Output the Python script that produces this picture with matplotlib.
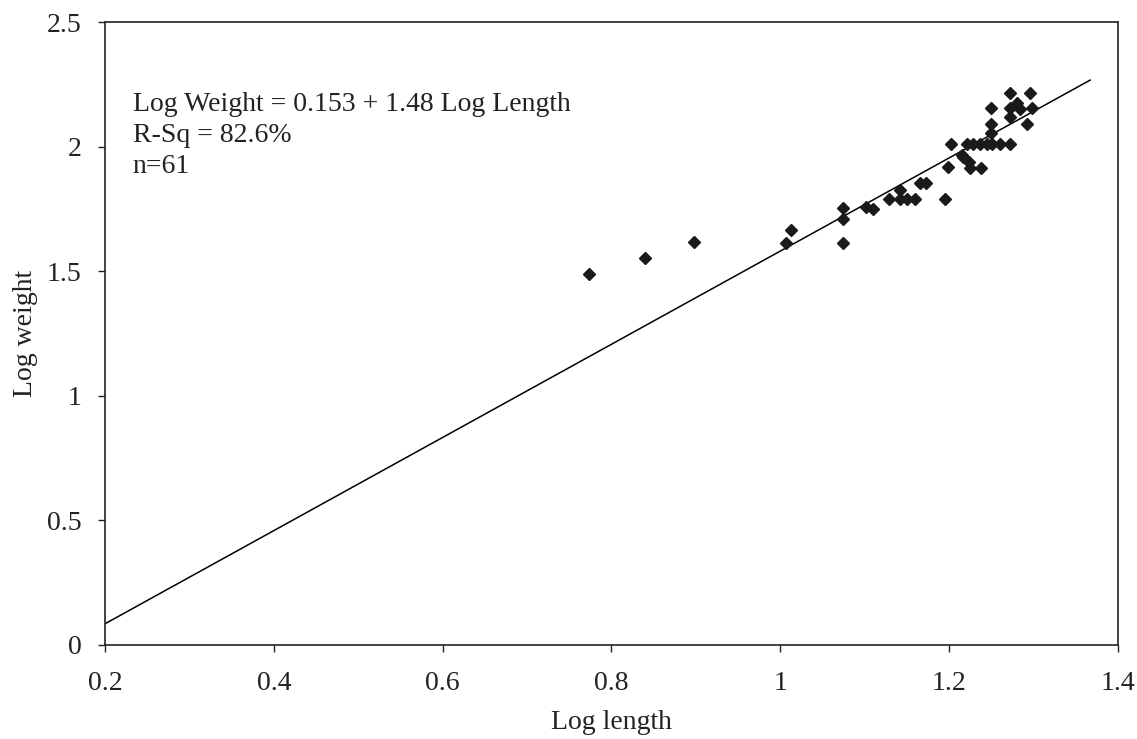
import matplotlib
matplotlib.use("Agg")
import matplotlib.pyplot as plt

plt.rcParams['font.family'] = ['Liberation Serif', 'DejaVu Serif']

# Data
log_length = [0.773, 0.840, 0.898, 1.007, 1.013, 1.074, 1.074, 1.074, 1.101, 1.110,
              1.129, 1.142, 1.142, 1.150, 1.160, 1.165, 1.173, 1.195, 1.199, 1.202,
              1.215, 1.221, 1.228, 1.237, 1.245, 1.251, 1.260, 1.272, 1.216, 1.224,
              1.225, 1.238, 1.249, 1.249, 1.249, 1.272, 1.296, 1.280, 1.272, 1.284,
              1.272, 1.298, 1.292]
log_weight = [1.489, 1.553, 1.617, 1.613, 1.665, 1.754, 1.709, 1.613, 1.757, 1.750,
              1.790, 1.826, 1.790, 1.790, 1.790, 1.854, 1.854, 1.790, 1.918, 2.010,
              1.966, 2.010, 2.010, 2.010, 2.010, 2.010, 2.010, 2.010, 1.958, 1.938,
              1.914, 1.914, 2.055, 2.091, 2.155, 2.215, 2.215, 2.175, 2.155, 2.151,
              2.119, 2.155, 2.091]

fit_x = [0.2, 1.367]
fit_y = [0.085, 2.267]

x_ticks = [0.2, 0.4, 0.6, 0.8, 1.0, 1.2, 1.4]
x_tick_labels = ['0.2', '0.4', '0.6', '0.8', '1', '1.2', '1.4']
y_ticks = [0, 0.5, 1.0, 1.5, 2.0, 2.5]
y_tick_labels = ['0', '0.5', '1', '1.5', '2', '2.5']

annotation_lines = ['Log Weight = 0.153 + 1.48 Log Length', 'R-Sq = 82.6%', 'n=61']

fig = plt.figure(figsize=(11.37, 7.39), dpi=100)
ax = fig.add_axes([0.0923, 0.1272, 0.8910, 0.8430])

ax.plot(fit_x, fit_y, color='black', linewidth=1.1)
ax.plot(log_length, log_weight, linestyle='none', marker='D', markersize=6.5,
        color='#1a1a1a')

ax.set_xlim(0.2, 1.4)
ax.set_ylim(0, 2.5)
ax.set_xticks(x_ticks)
ax.set_xticklabels(x_tick_labels)
ax.set_yticks(y_ticks)
ax.set_yticklabels(y_tick_labels)
ax.tick_params(direction='out', length=5, width=1, labelsize=20, colors='#222222')
ax.tick_params(axis='x', pad=14)
ax.tick_params(axis='y', pad=12)

for s in ax.spines.values():
    s.set_linewidth(1.2)
    s.set_color('#222222')

ax.set_xlabel('Log length', fontsize=20, labelpad=10, color='#222222')
ax.set_ylabel('Log weight', fontsize=20, labelpad=6, color='#222222')

ys = [2.143, 2.018, 1.894]
for line, yy in zip(annotation_lines, ys):
    ax.text(0.233, yy, line, fontsize=20, va='baseline', ha='left', color='#222222')

fig.savefig('out.png', dpi=100)
